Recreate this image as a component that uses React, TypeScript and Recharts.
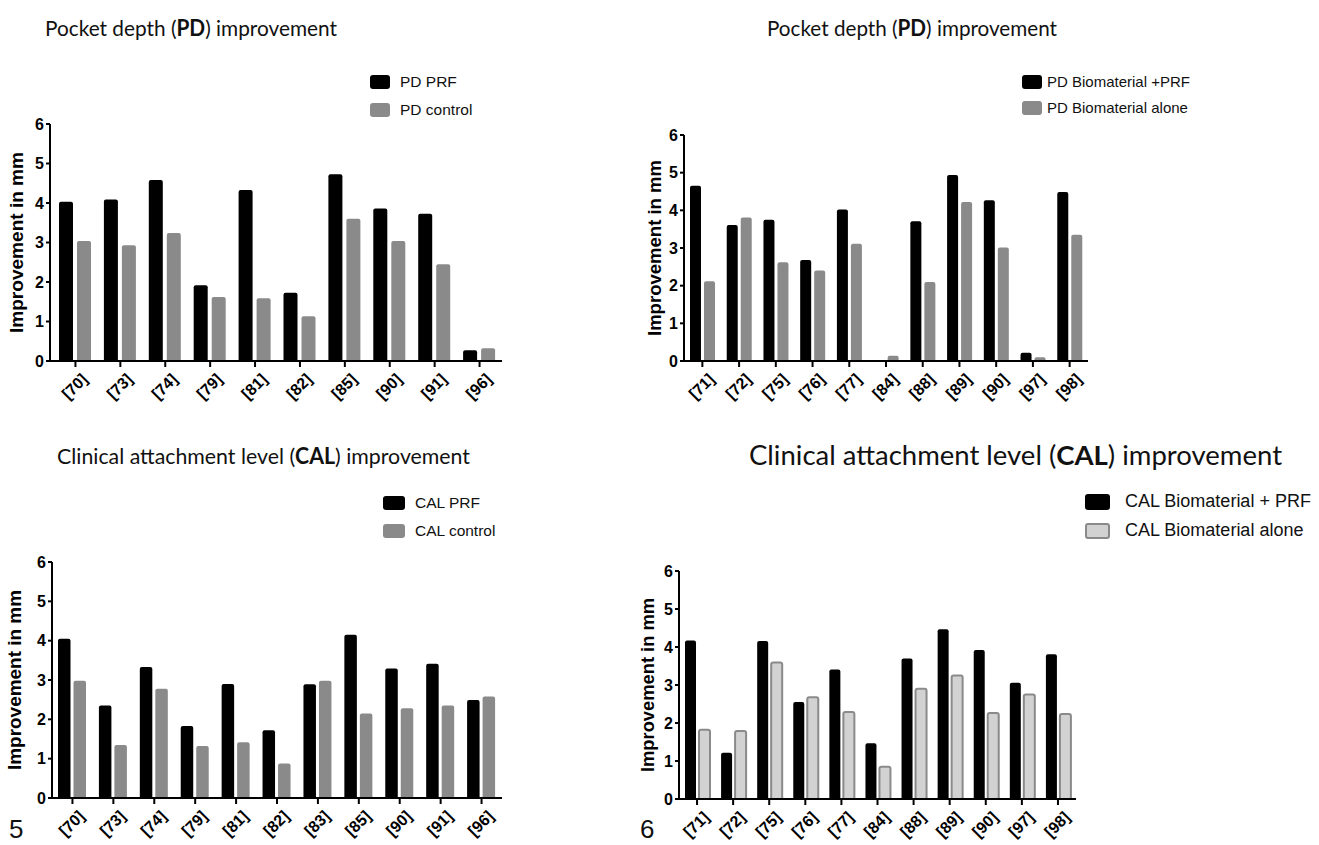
import React from 'react';
import { BarChart, Bar, XAxis, YAxis } from 'recharts';

// study references per panel
const pdPrfStudies = ['[70]', '[73]', '[74]', '[79]', '[81]', '[82]', '[85]', '[90]', '[91]', '[96]'];
const pdPrf = [4.03, 4.09, 4.58, 1.92, 4.33, 1.73, 4.73, 3.86, 3.73, 0.27];
const pdControl = [3.04, 2.93, 3.24, 1.62, 1.59, 1.13, 3.6, 3.04, 2.45, 0.32];

const pdBioStudies = ['[71]', '[72]', '[75]', '[76]', '[77]', '[84]', '[88]', '[89]', '[90]', '[97]', '[98]'];
const pdBioPrf = [4.65, 3.61, 3.75, 2.68, 4.02, 0, 3.71, 4.94, 4.27, 0.22, 4.49];
const pdBioAlone = [2.12, 3.81, 2.62, 2.4, 3.11, 0.14, 2.1, 4.22, 3.01, 0.1, 3.35];

const calPrfStudies = ['[70]', '[73]', '[74]', '[79]', '[81]', '[82]', '[83]', '[85]', '[90]', '[91]', '[96]'];
const calPrf = [4.05, 2.35, 3.33, 1.83, 2.9, 1.72, 2.89, 4.15, 3.29, 3.41, 2.49];
const calControl = [2.98, 1.35, 2.78, 1.32, 1.42, 0.88, 2.98, 2.15, 2.28, 2.35, 2.58];

const calBioStudies = ['[71]', '[72]', '[75]', '[76]', '[77]', '[84]', '[88]', '[89]', '[90]', '[97]', '[98]'];
const calBioPrf = [4.17, 1.22, 4.16, 2.55, 3.41, 1.47, 3.7, 4.47, 3.92, 3.06, 3.81];
const calBioAlone = [1.82, 1.79, 3.59, 2.68, 2.29, 0.85, 2.9, 3.25, 2.26, 2.75, 2.24];

const yTicks = [0, 1, 2, 3, 4, 5, 6];
const yTitle = 'Improvement in mm';

const AXIS_FONT = '"Liberation Sans", Arial, sans-serif';
const GREY = '#8a8a8a';

const SlantTick = ({ x, y, payload }: any) => (
  <g transform={`translate(${x + 5},${y + 3}) rotate(-45)`}>
    <text x={0} y={0} dy="0.72em" textAnchor="end" fontSize={16} fontWeight="bold" fill="#000" fontFamily={AXIS_FONT}>
      {payload.value}
    </text>
  </g>
);

interface PanelProps {
  left: number;
  right: number;
  top: number;
  bottom: number;
  studies: string[];
  a: number[];
  b: number[];
  nameA: string;
  nameB: string;
  barSize: number;
  barGap: number;
  padLeft: number;
  labelDx: number;
  labelLen: number;
  light?: boolean;
  legend: { x: number; tx: number; y1: number; y2: number; w: number; h: number; fs: number };
}

const Panel: React.FC<PanelProps> = (p) => {
  const data = p.studies.map((s, i) => ({ study: s, a: p.a[i], b: p.b[i] }));
  const w = p.right - p.left + 50 + 6;
  const h = p.bottom - p.top + 10 + 70;
  const bFill = p.light ? '#d2d2d2' : GREY;

  const renderYTitle = ({ viewBox }: any) => {
    // the y axis line sits at x = 50 inside each chart
    const x = 50 - p.labelDx;
    const y = viewBox.y + viewBox.height / 2;
    return (
      <text
        x={x}
        y={y}
        transform={`rotate(-90, ${x}, ${y})`}
        textAnchor="middle"
        dominantBaseline="central"
        fontSize={18}
        fontWeight="bold"
        fontFamily={AXIS_FONT}
        fill="#000"
        textLength={p.labelLen}
        lengthAdjust="spacingAndGlyphs"
      >
        {yTitle}
      </text>
    );
  };

  const sq = (fill: string, stroke?: string) => ({
    position: 'absolute' as const,
    left: p.legend.x,
    width: p.legend.w,
    height: p.legend.h,
    background: fill,
    borderRadius: 3,
    boxSizing: 'border-box' as const,
    border: stroke ? `2px solid ${stroke}` : 'none',
  });

  const txt = (y: number) => ({
    position: 'absolute' as const,
    left: p.legend.tx,
    top: y - p.legend.fs * 0.6,
    fontSize: p.legend.fs,
    lineHeight: `${p.legend.fs * 1.2}px`,
    fontFamily: AXIS_FONT,
    color: '#111',
    whiteSpace: 'nowrap' as const,
  });

  return (
    <>
      <div style={{ position: 'absolute', left: p.left - 50, top: p.top - 10 }}>
        <BarChart
          width={w}
          height={h}
          data={data}
          margin={{ top: 10, right: 6, bottom: 0, left: 0 }}
          barSize={p.barSize}
          barGap={p.barGap}
        >
          <XAxis
            dataKey="study"
            interval={0}
            height={70}
            padding={{ left: p.padLeft, right: 0 }}
            axisLine={{ stroke: '#000', strokeWidth: 2 }}
            tickLine={{ stroke: '#000', strokeWidth: 2 }}
            tickSize={6}
            tick={<SlantTick />}
          />
          <YAxis
            width={50}
            domain={[0, 6]}
            ticks={yTicks}
            interval={0}
            allowDecimals={false}
            axisLine={{ stroke: '#000', strokeWidth: 2 }}
            tickLine={{ stroke: '#000', strokeWidth: 2 }}
            tickSize={4}
            tickMargin={2}
            tick={{ fontSize: 16, fontWeight: 'bold', fill: '#000', fontFamily: AXIS_FONT }}
            label={{ content: renderYTitle }}
          />
          <Bar dataKey="a" name={p.nameA} fill="#000" radius={[2, 2, 0, 0]} isAnimationActive={false} />
          <Bar
            dataKey="b"
            name={p.nameB}
            fill={bFill}
            stroke={p.light ? GREY : undefined}
            strokeWidth={p.light ? 2 : 0}
            radius={[2, 2, 0, 0]}
            isAnimationActive={false}
          />
        </BarChart>
      </div>
      <div style={{ ...sq('#000'), top: p.legend.y1 - p.legend.h / 2 }} />
      <div style={txt(p.legend.y1)}>{p.nameA}</div>
      <div style={{ ...sq(bFill, p.light ? GREY : undefined), top: p.legend.y2 - p.legend.h / 2 }} />
      <div style={txt(p.legend.y2)}>{p.nameB}</div>
    </>
  );
};

const TITLE_FONT = 'Lato, "Open Sans", sans-serif';

const Title = ({ x, y, len, fs, pre, bold, post }: any) => (
  <text x={x} y={y} fontSize={fs} fontFamily={TITLE_FONT} fill="#111" textLength={len} lengthAdjust="spacingAndGlyphs">
    {pre}
    <tspan fontWeight="bold">{bold}</tspan>
    {post}
  </text>
);

export default function App() {
  return (
    <div style={{ position: 'absolute', left: 0, top: 0, width: 1319, height: 845, background: '#fff', overflow: 'hidden' }}>
      <svg width={1319} height={845} style={{ position: 'absolute', left: 0, top: 0 }}>
        <Title x={45} y={36} len={292} fs={22} pre="Pocket depth (" bold="PD" post=") improvement" />
        <Title x={767} y={36} len={290} fs={22} pre="Pocket depth (" bold="PD" post=") improvement" />
        <Title x={57} y={464} len={413} fs={22} pre="Clinical attachment level (" bold="CAL" post=") improvement" />
        <Title x={749} y={465} len={533} fs={27} pre="Clinical attachment level (" bold="CAL" post=") improvement" />
        <text x={9} y={838} fontSize={26} fontFamily={AXIS_FONT} fill="#111">5</text>
        <text x={640} y={838} fontSize={26} fontFamily={AXIS_FONT} fill="#111">6</text>
      </svg>
      <Panel
        left={50} right={502} top={124} bottom={361}
        studies={pdPrfStudies} a={pdPrf} b={pdControl}
        nameA="PD PRF" nameB="PD control"
        barSize={14} barGap={4} padLeft={3} labelDx={33} labelLen={181}
        legend={{ x: 370, tx: 400, y1: 82, y2: 110, w: 20, h: 14, fs: 15.5 }}
      />
      <Panel
        left={684} right={1088} top={135} bottom={361}
        studies={pdBioStudies} a={pdBioPrf} b={pdBioAlone}
        nameA="PD Biomaterial +PRF" nameB="PD Biomaterial alone"
        barSize={11} barGap={3} padLeft={0} labelDx={29} labelLen={176}
        legend={{ x: 1022, tx: 1047, y1: 82, y2: 108, w: 20, h: 14, fs: 15 }}
      />
      <Panel
        left={52} right={502} top={562} bottom={798}
        studies={calPrfStudies} a={calPrf} b={calControl}
        nameA="CAL PRF" nameB="CAL control"
        barSize={12.5} barGap={3} padLeft={0} labelDx={37} labelLen={180}
        legend={{ x: 383, tx: 415, y1: 503, y2: 531, w: 22, h: 14, fs: 15.5 }}
      />
      <Panel
        left={679} right={1076} top={571} bottom={799}
        studies={calBioStudies} a={calBioPrf} b={calBioAlone}
        nameA="CAL Biomaterial + PRF" nameB="CAL Biomaterial alone"
        barSize={11} barGap={3} padLeft={0} labelDx={31} labelLen={174} light
        legend={{ x: 1085, tx: 1125, y1: 502, y2: 531, w: 25, h: 16, fs: 18 }}
      />
    </div>
  );
}
